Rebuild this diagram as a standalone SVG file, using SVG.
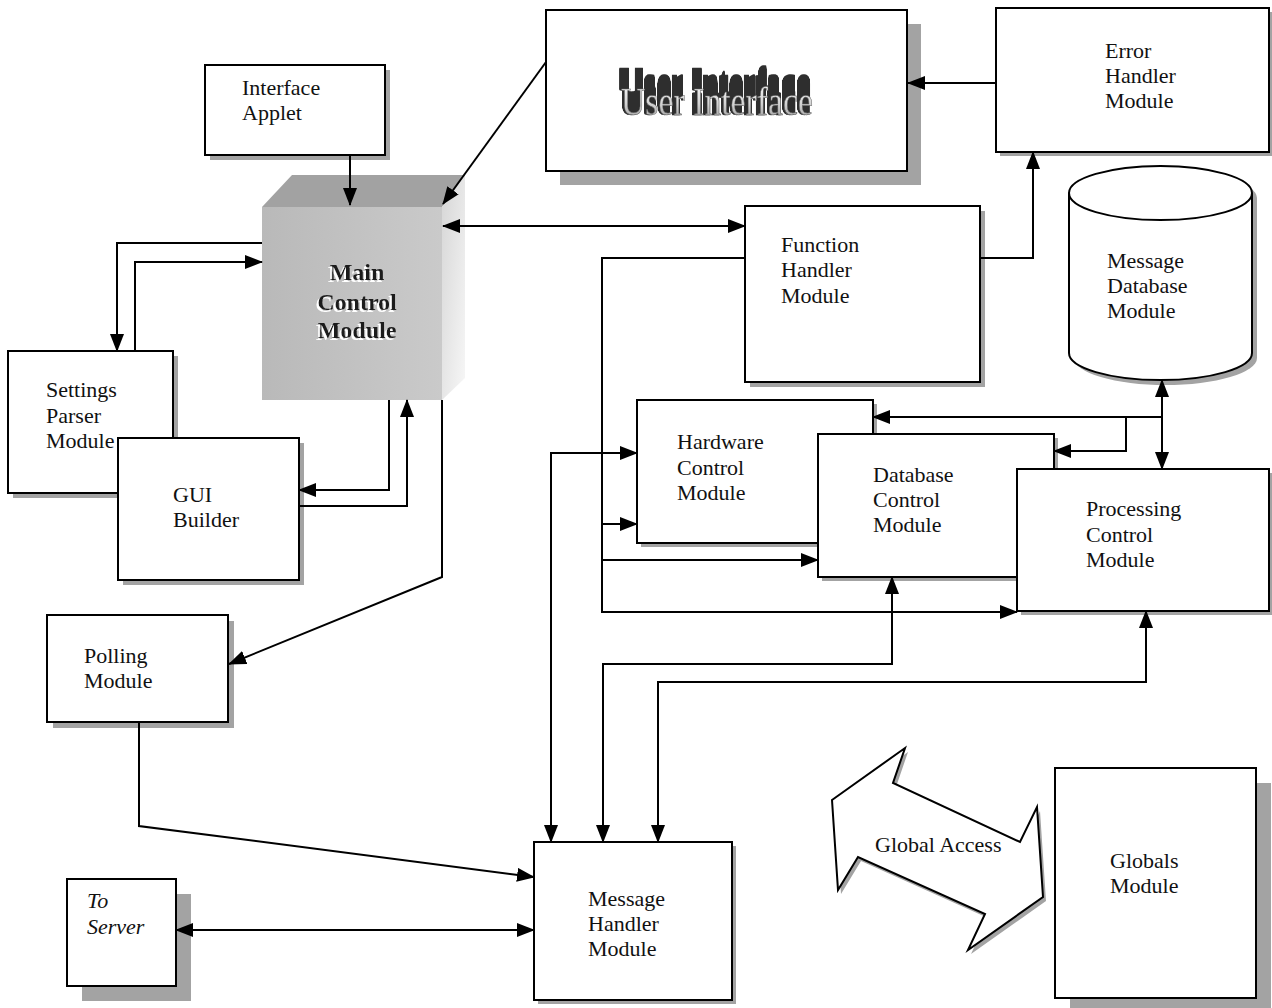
<svg xmlns="http://www.w3.org/2000/svg" width="1272" height="1008" viewBox="0 0 1272 1008">
<style>
.box{fill:#fff;stroke:#000;stroke-width:2}
.sh{fill:#a3a3a3}
.t{font-family:"Liberation Serif","Times New Roman",serif;font-size:22px;fill:#111}
.ti{font-family:"Liberation Serif","Times New Roman",serif;font-size:22px;font-style:italic;fill:#111}
.c{fill:none;stroke:#000;stroke-width:2}
.a{marker-end:url(#ah)}
.b{marker-start:url(#ah);marker-end:url(#ah)}
</style>
<defs>
<marker id="ah" viewBox="0 0 18 14" refX="17" refY="7" markerWidth="18" markerHeight="14" markerUnits="userSpaceOnUse" orient="auto-start-reverse">
<path d="M0,0 L18,7 L0,14 Z" fill="#000"/>
</marker>
<linearGradient id="front" x1="0" y1="0" x2="1" y2="0">
<stop offset="0" stop-color="#b9b9b9"/><stop offset="1" stop-color="#cacaca"/>
</linearGradient>
<linearGradient id="side" x1="0" y1="0" x2="1" y2="1">
<stop offset="0" stop-color="#d6d6d6"/><stop offset="1" stop-color="#f7f7f7"/>
</linearGradient>
<linearGradient id="uifill" x1="0" y1="0" x2="0" y2="1">
<stop offset="0" stop-color="#ffffff"/><stop offset="0.55" stop-color="#d4d4d4"/><stop offset="1" stop-color="#8f8f8f"/>
</linearGradient>
<filter id="extr" x="-10%" y="-120%" width="120%" height="240%">
<feConvolveMatrix in="SourceAlpha" order="1 22" kernelMatrix="1 1 1 1 1 1 1 1 1 1 1 1 1 1 1 1 1 1 1 1 1 1" divisor="1" targetX="0" targetY="0" edgeMode="none" preserveAlpha="false" result="m0"/>
<feOffset in="m0" dx="-2" dy="0" result="m"/>
<feFlood flood-color="#2e2e2e"/>
<feComposite operator="in" in2="m" result="d"/>
<feMerge><feMergeNode in="d"/><feMergeNode in="SourceGraphic"/></feMerge>
</filter>
<filter id="ghost" x="-20%" y="-40%" width="140%" height="180%">
<feOffset in="SourceAlpha" dx="-2" dy="2" result="o"/>
<feFlood flood-color="#ffffff"/>
<feComposite operator="in" in2="o" result="w"/>
<feMerge><feMergeNode in="w"/><feMergeNode in="SourceGraphic"/></feMerge>
</filter>
</defs>

<g id="interface-applet">
<rect class="sh" x="210" y="70" width="180" height="90"/>
<rect class="box" x="205" y="65" width="180" height="90"/>
<text class="t" x="242" y="95">Interface</text>
<text class="t" x="242" y="120">Applet</text>
</g>

<g id="user-interface">
<rect class="sh" x="560" y="24" width="361" height="161"/>
<rect class="box" x="546" y="10" width="361" height="161"/>
<text x="621" y="115" textLength="192" lengthAdjust="spacingAndGlyphs" filter="url(#extr)" style="font-family:'Liberation Serif','Times New Roman',serif;font-size:40px;fill:url(#uifill);stroke:#555;stroke-width:0.5">User Interface</text>
</g>

<g id="error-handler">
<rect class="sh" x="1000" y="12" width="273" height="144"/>
<rect class="box" x="996" y="8" width="273" height="144"/>
<text class="t" x="1105" y="58">Error</text>
<text class="t" x="1105" y="83">Handler</text>
<text class="t" x="1105" y="108">Module</text>
</g>

<g id="main-control">
<polygon points="262,207 292,175 465,175 442,207" fill="#a2a2a2"/>
<polygon points="442,207 465,175 465,378 442,400" fill="url(#side)"/>
<rect x="262" y="207" width="180" height="193" fill="url(#front)"/>
<g filter="url(#ghost)" style="font-family:'Liberation Serif','Times New Roman',serif;font-size:24px;font-weight:bold;fill:#1e1e1e" text-anchor="middle">
<text x="357" y="280">Main</text>
<text x="357" y="310">Control</text>
<text x="357" y="338">Module</text>
</g>
</g>

<g id="function-handler">
<rect class="sh" x="750" y="211" width="235" height="176"/>
<rect class="box" x="745" y="206" width="235" height="176"/>
<text class="t" x="781" y="252">Function</text>
<text class="t" x="781" y="277">Handler</text>
<text class="t" x="781" y="303">Module</text>
</g>

<g id="message-database">
<path d="M1074,198 V358 A91.5,27 0 0 0 1257,358 V198 A91.5,27 0 0 0 1074,198 Z" fill="#a3a3a3"/>
<path d="M1069,193 V353 A91.5,27 0 0 0 1252,353 V193 A91.5,27 0 0 0 1069,193 Z" class="box"/>
<path d="M1069,193 A91.5,27 0 0 0 1252,193" class="c"/>
<text class="t" x="1107" y="268">Message</text>
<text class="t" x="1107" y="293">Database</text>
<text class="t" x="1107" y="318">Module</text>
</g>

<g id="settings-parser">
<rect class="sh" x="13" y="356" width="165" height="142"/>
<rect class="box" x="8" y="351" width="165" height="142"/>
<text class="t" x="46" y="397">Settings</text>
<text class="t" x="46" y="423">Parser</text>
<text class="t" x="46" y="448">Module</text>
</g>

<g id="gui-builder">
<rect class="sh" x="123" y="443" width="181" height="142"/>
<rect class="box" x="118" y="438" width="181" height="142"/>
<text class="t" x="173" y="502">GUI</text>
<text class="t" x="173" y="527">Builder</text>
</g>

<g id="hardware-control">
<rect class="sh" x="641" y="404" width="236" height="143"/>
<rect class="box" x="637" y="400" width="236" height="143"/>
<text class="t" x="677" y="449">Hardware</text>
<text class="t" x="677" y="475">Control</text>
<text class="t" x="677" y="500">Module</text>
</g>

<g id="database-control">
<rect class="sh" x="822" y="438" width="236" height="143"/>
<rect class="box" x="818" y="434" width="236" height="143"/>
<text class="t" x="873" y="482">Database</text>
<text class="t" x="873" y="507">Control</text>
<text class="t" x="873" y="532">Module</text>
</g>

<g id="processing-control">
<rect class="sh" x="1021" y="473" width="252" height="142"/>
<rect class="box" x="1017" y="469" width="252" height="142"/>
<text class="t" x="1086" y="516">Processing</text>
<text class="t" x="1086" y="542">Control</text>
<text class="t" x="1086" y="567">Module</text>
</g>

<g id="polling">
<rect class="sh" x="53" y="621" width="181" height="107"/>
<rect class="box" x="47" y="615" width="181" height="107"/>
<text class="t" x="84" y="663">Polling</text>
<text class="t" x="84" y="688">Module</text>
</g>

<g id="to-server">
<rect class="sh" x="82" y="894" width="109" height="107"/>
<rect class="box" x="67" y="879" width="109" height="107"/>
<text class="ti" x="87" y="908">To</text>
<text class="ti" x="87" y="934">Server</text>
</g>

<g id="message-handler">
<rect class="sh" x="538" y="846" width="198" height="158"/>
<rect class="box" x="534" y="842" width="198" height="158"/>
<text class="t" x="588" y="906">Message</text>
<text class="t" x="588" y="931">Handler</text>
<text class="t" x="588" y="956">Module</text>
</g>

<g id="global-access">
<polygon points="835,804 908,752 896,787 1023,846 1040,811 1046,901 971,954 988,918 861,861 841,894" fill="#a3a3a3"/>
<polygon points="832,800 905,748 893,783 1020,842 1037,807 1043,897 968,950 985,914 858,857 838,890" fill="#fff" stroke="#000" stroke-width="2" stroke-linejoin="miter"/>
<text class="t" x="875" y="852">Global Access</text>
</g>

<g id="globals">
<rect class="sh" x="1070" y="783" width="201" height="230"/>
<rect class="box" x="1055" y="768" width="201" height="230"/>
<text class="t" x="1110" y="868">Globals</text>
<text class="t" x="1110" y="893">Module</text>
</g>

<g id="connectors">
<path class="c a" d="M350,155 V205"/>
<path class="c a" d="M546,62 L443,204"/>
<path class="c a" d="M996,83 H908"/>
<path class="c b" d="M443,226 H745"/>
<path class="c a" d="M980,258 H1033 V152"/>
<path class="c a" d="M262,243 H117 V351"/>
<path class="c a" d="M135,351 V262 H262"/>
<path class="c a" d="M389,400 V490 H299"/>
<path class="c a" d="M299,506 H407 V400"/>
<path class="c a" d="M442,400 V577 L229,664"/>
<path class="c a" d="M139,722 V826 L534,877"/>
<path class="c b" d="M176,930 H534"/>
<path class="c b" d="M551,842 V453 H637"/>
<path class="c b" d="M603,842 V664 H892 V577"/>
<path class="c b" d="M658,842 V682 H1146 V611"/>
<path class="c a" d="M745,258 H602 V612 H1017"/>
<path class="c a" d="M602,524 H637"/>
<path class="c a" d="M602,560 H818"/>
<path class="c b" d="M1162,380 V469"/>
<path class="c a" d="M1162,417 H873"/>
<path class="c a" d="M1126,417 V451 H1054"/>
</g>
</svg>
